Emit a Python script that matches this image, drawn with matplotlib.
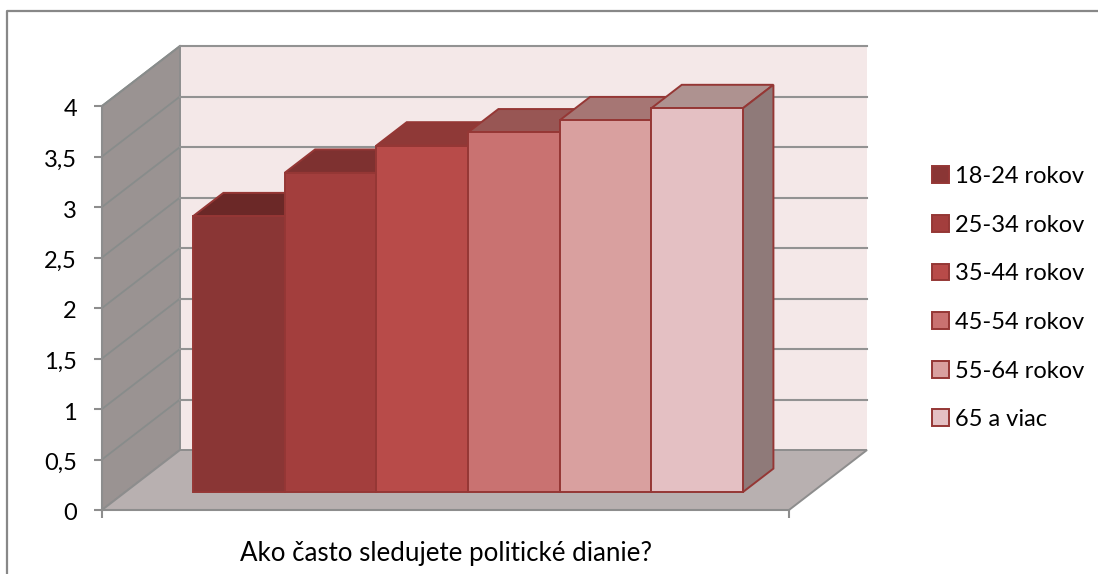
"""Stepped 3D-look column chart, drawn as an oblique projection on flat axes."""
import matplotlib
matplotlib.use("Agg")
import matplotlib.pyplot as plt
from matplotlib.lines import Line2D
from matplotlib.patches import Polygon
from matplotlib.transforms import ScaledTranslation

W, H = 1098, 574

groups = ["18-24 rokov", "25-34 rokov", "35-44 rokov", "45-54 rokov", "55-64 rokov", "65 a viac"]
values = [2.73, 3.16, 3.43, 3.56, 3.68, 3.80]
y_ticks = [0, 0.5, 1, 1.5, 2, 2.5, 3, 3.5, 4]
y_tick_labels = ["0", "0,5", "1", "1,5", "2", "2,5", "3", "3,5", "4"]
x_label = "Ako často sledujete politické dianie?"

front_colors = ["#8A3635", "#A33E3D", "#B84B49", "#C97271", "#D9A09F", "#E4C0C3"]
top_colors = ["#6B2827", "#7E3130", "#8F3937", "#985654", "#A67674", "#AE9290"]
side_color = "#8F7A79"
edge_color = "#953735"
grid_color = "#929292"
wall_grid_color = "#888C8B"

# plot box of the front floor edge, in pixels
LEFT, RIGHT, BOTTOM, TOP = 102, 789, 510, 106
XMIN, XMAX = -0.737, 6.757
PX_X = (RIGHT - LEFT) / (XMAX - XMIN)
PX_Y = (BOTTOM - TOP) / 4
# a full unit of depth moves this far, in data units
DX = 78 / PX_X
DY = 60 / PX_Y
BAR_FRONT, BAR_BACK = 0.3, 0.69

plt.rcParams["font.family"] = ["Lato", "DejaVu Sans"]

fig = plt.figure(figsize=(W / 100, H / 100), dpi=100)
ax = fig.add_axes([LEFT / W, 1 - BOTTOM / H, (RIGHT - LEFT) / W, (BOTTOM - TOP) / H])
ax.set_xlim(XMIN, XMAX)
ax.set_ylim(0, 4)
ax.patch.set_visible(False)


def proj(x, y, d):
    return (x + d * DX, y + d * DY)


def face(points, color, edge=None, lw=1.4, z=1):
    ax.add_patch(Polygon(points, closed=True, facecolor=color, edgecolor=edge or color,
                         linewidth=lw, clip_on=False, zorder=z, joinstyle="miter"))


# walls and floor
face([proj(XMIN, 0, 1), proj(XMAX, 0, 1), proj(XMAX, 4, 1), proj(XMIN, 4, 1)], "#F4E8E8", lw=0, z=1)
face([proj(XMIN, 0, 0), proj(XMIN, 0, 1), proj(XMIN, 4, 1), proj(XMIN, 4, 0)], "#9A9392", edge="#8D8D8D", z=2)
face([proj(XMIN, 0, 0), proj(XMAX, 0, 0), proj(XMAX, 0, 1), proj(XMIN, 0, 1)], "#B8B0B0", edge="#8D8D8D", z=2)

# gridlines run along the left wall and the back wall
for tick in y_ticks[1:]:
    a, b, c = proj(XMIN, tick, 0), proj(XMIN, tick, 1), proj(XMAX, tick, 1)
    ax.plot([a[0], b[0]], [a[1], b[1]], color=wall_grid_color, lw=1.3, clip_on=False, zorder=3)
    ax.plot([b[0], c[0]], [b[1], c[1]], color=grid_color, lw=1.5, clip_on=False, zorder=3)

# columns, left to right so each one hides the side of the previous one
base = BAR_FRONT * DY
shift = BAR_FRONT * DX
depth = BAR_BACK - BAR_FRONT
for i, (name, val) in enumerate(zip(groups, values)):
    x0, x1 = i + shift, i + 1 + shift
    z = 10 + i
    top = base + val
    face([(x0, top), (x1, top), (x1 + depth * DX, top + depth * DY), (x0 + depth * DX, top + depth * DY)],
         top_colors[i], edge=edge_color, z=z)
    face([(x1, base), (x1 + depth * DX, base + depth * DY), (x1 + depth * DX, top + depth * DY), (x1, top)],
         side_color, edge=edge_color, z=z)
    ax.bar(x0, val, width=1, bottom=base, align="edge", color=front_colors[i], edgecolor=edge_color,
           linewidth=1.4, label=name, clip_on=False, zorder=z + 0.5)

# axes
for side in ("top", "right"):
    ax.spines[side].set_visible(False)
for side in ("left", "bottom"):
    ax.spines[side].set_color("#8D8D8D")
    ax.spines[side].set_linewidth(1.5)
    ax.spines[side].set_zorder(5)
ax.set_yticks(y_ticks, y_tick_labels)
ax.set_xticks([XMIN, XMAX], ["", ""])
ax.tick_params(axis="both", color="#8D8D8D", width=1.5, length=6, labelsize=17, labelcolor="black")
ax.tick_params(axis="y", pad=12)
for lab in ax.get_yticklabels():
    lab.set_transform(lab.get_transform() + ScaledTranslation(0, -2 / 100, fig.dpi_scale_trans))
ax.set_xlabel(x_label, fontsize=18.6, labelpad=13, color="black")

handles, labels = ax.get_legend_handles_labels()
ax.legend(handles, labels, loc="upper left", bbox_to_anchor=(932 / W, 1 - 166 / H),
          bbox_transform=fig.transFigure, frameon=False, fontsize=17, handlelength=0.72,
          handleheight=0.72, handletextpad=0.25, labelspacing=1.17, borderpad=0, borderaxespad=0)

# chart frame
fig.add_artist(Line2D([7 / W, 7 / W, 1], [0, 1 - 11 / H, 1 - 11 / H], color="#888888", lw=1.6))

fig.savefig("out.png", dpi=100)
